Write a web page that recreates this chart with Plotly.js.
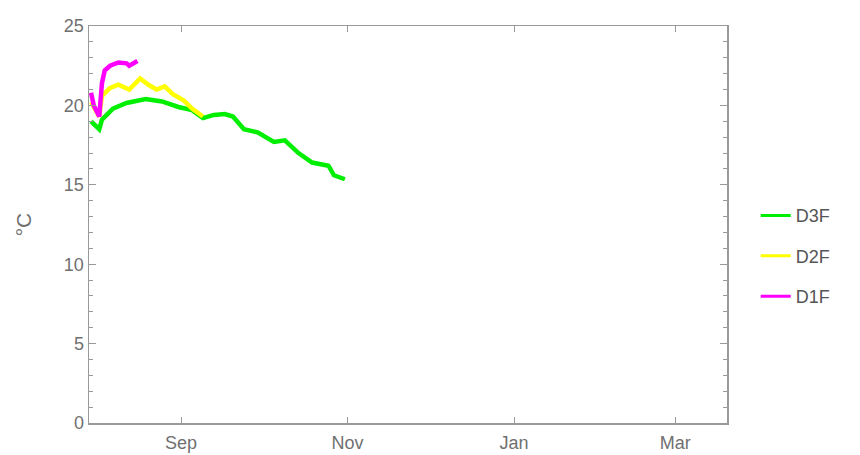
<!DOCTYPE html>
<html>
<head>
<meta charset="utf-8">
<script src="https://cdn.plot.ly/plotly-3.0.1.min.js"></script>
<style>html,body{margin:0;padding:0;background:#fff;}#chart{width:860px;height:455px;}</style>
</head>
<body>
<div id="chart"></div>
<script>
// D3F (green)
const d3fDates = ['2017-07-30','2017-07-31','2017-08-02','2017-08-03','2017-08-05','2017-08-07','2017-08-12','2017-08-19','2017-08-25','2017-08-31','2017-09-05','2017-09-09','2017-09-13','2017-09-17','2017-09-20','2017-09-24','2017-09-29','2017-10-05','2017-10-09','2017-10-14','2017-10-19','2017-10-25','2017-10-27','2017-10-31'];
const d3fValues = [19.0,18.8,18.5,19.1,19.5,19.8,20.15,20.4,20.25,19.9,19.7,19.2,19.4,19.45,19.3,18.5,18.3,17.7,17.8,17.0,16.4,16.2,15.6,15.35];
// D2F (yellow)
const d2fDates = ['2017-07-30','2017-08-01','2017-08-02','2017-08-03','2017-08-06','2017-08-09','2017-08-13','2017-08-17','2017-08-20','2017-08-23','2017-08-26','2017-08-29','2017-09-02','2017-09-05','2017-09-08','2017-09-09'];
const d2fValues = [20.2,19.6,19.3,20.6,21.1,21.3,21.0,21.7,21.3,21.0,21.2,20.7,20.3,19.8,19.4,19.3];
// D1F (magenta)
const d1fDates = ['2017-07-30','2017-07-31','2017-08-02','2017-08-03','2017-08-04','2017-08-06','2017-08-09','2017-08-12','2017-08-13','2017-08-15','2017-08-16'];
const d1fValues = [20.8,20.0,19.3,21.4,22.2,22.5,22.7,22.65,22.5,22.7,22.8];

const seriesNames = ['D3F','D2F','D1F'];
const xTickVals = ['2017-09-01','2017-11-01','2018-01-01','2018-03-01'];
const xTickText = ['Sep','Nov','Jan','Mar'];
const yTickVals = [0,5,10,15,20,25];

const colors = ['#00ee00','#ffff00','#ff00ff'];
const allDates = [d3fDates,d2fDates,d1fDates];
const allVals = [d3fValues,d2fValues,d1fValues];

const fam = 'Liberation Sans, Arial, sans-serif';

const traces = [];
seriesNames.forEach((n,i)=>{
  traces.push({
    x: allDates[i], y: allVals[i], type:'scatter', mode:'lines', name:n,
    legendgroup:'g'+i, showlegend:false,
    line:{color:colors[i], width:4.5}
  });
});
// legend entries (thinner legend swatch, as in the reference)
seriesNames.forEach((n,i)=>{
  traces.push({
    x:[null], y:[null], type:'scatter', mode:'lines', name:n,
    legendgroup:'g'+i, showlegend:true,
    line:{color:colors[i], width:3}
  });
});

const axisCommon = {
  showline:true, linecolor:'#999', linewidth:1.5, mirror:'ticks',
  ticks:'inside', tickcolor:'#999', showgrid:false, zeroline:false,
  tickfont:{family:fam, size:18, color:'#707070'}
};

const layout = {
  width:860, height:455,
  margin:{l:89, r:133, t:26, b:32},
  paper_bgcolor:'#fff', plot_bgcolor:'#fff',
  showlegend:true,
  legend:{x:1.045, xanchor:'left', y:0.42, yanchor:'middle', tracegroupgap:14,
    font:{family:fam, size:18, color:'#555'}, itemwidth:30},
  xaxis: Object.assign({}, axisCommon, {
    type:'date', range:['2017-07-29 06:00','2018-03-20'],
    tickmode:'array', tickvals:xTickVals, ticktext:xTickText, ticklen:6,
    ticklabelstandoff:3
  }),
  yaxis: Object.assign({}, axisCommon, {
    range:[0,25], tickmode:'array', tickvals:yTickVals, ticklen:7,
    minor:{dtick:1, ticks:'inside', ticklen:4, tickcolor:'#999', showgrid:false},
    title:{text:'°C', standoff:26, font:{family:fam, size:21, color:'#707070'}}
  })
};

Plotly.newPlot('chart', traces, layout, {displayModeBar:false, staticPlot:true});
</script>
</body>
</html>
